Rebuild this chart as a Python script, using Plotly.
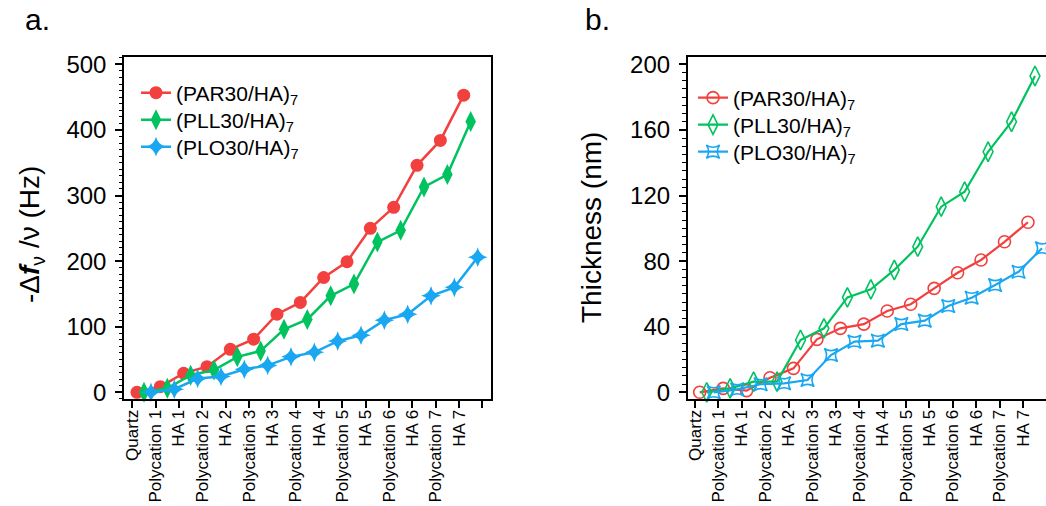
import plotly.graph_objects as go

# ---------------- data ----------------
categories = ["Quartz", "Polycation 1", "HA 1", "Polycation 2", "HA 2", "Polycation 3", "HA 3",
              "Polycation 4", "HA 4", "Polycation 5", "HA 5", "Polycation 6", "HA 6",
              "Polycation 7", "HA 7"]

series_names = ["(PAR30/HA)<sub>7</sub>", "(PLL30/HA)<sub>7</sub>", "(PLO30/HA)<sub>7</sub>"]

# panel a: -Δf/ν (Hz)
freq_par = [0, 8.5, 29, 39, 65.5, 81, 119, 137, 175, 199, 250, 282, 346, 384, 453]
freq_pll = [0, 6, 26, 34, 54, 63, 96, 111, 147, 165, 229, 247, 313, 332, 413]
freq_plo = [0, 4.6, 21, 24, 35, 41, 54, 61, 78, 87, 110, 119, 147, 160, 206]

# panel b: thickness (nm)
thick_par = [0, 2.4, 1.0, 8.9, 14.6, 32.3, 39, 41.6, 49.6, 53.7, 63.4, 72.9, 80.7, 91.8, 103.7]
thick_pll = [0, 2.4, 6.5, 6.5, 31.9, 39, 57.9, 62.8, 74.6, 88.8, 113.2, 122.3, 146.7, 165, 192.9]
thick_plo = [0, 1.8, 4.9, 5.5, 7.5, 22.7, 30.9, 31.5, 41.6, 43.7, 52.6, 57.7, 65.4, 73.5, 87.8]

# ---------------- style ----------------
colors = ["#F2403F", "#00C35F", "#1AA7F2"]
offsets = [0.2, 0.5, 0.8]
W, H = 1046, 506
FONT = "Liberation Sans, Arial, sans-serif"

def px_x(p):
    return p / W

def px_y(p):
    return 1 - p / H

fig = go.Figure()

symbols_a = ["circle", "diamond-tall", "star-diamond"]
sizes_a = [13, 15, 14]
for k, (name, vals, col, off, sym, sz) in enumerate(zip(series_names, [freq_par, freq_pll, freq_plo],
                                                        colors, offsets, symbols_a, sizes_a)):
    fig.add_trace(go.Scatter(
        x=[i + off for i in range(len(vals))], y=vals, name=name,
        mode="lines+markers", xaxis="x", yaxis="y",
        legend="legend" if k == 0 else f"legend{k + 1}",
        line=dict(color=col, width=2.5),
        marker=dict(symbol=sym, size=sz, color=col, line=dict(width=0)),
        cliponaxis=False,
    ))

symbols_b = ["circle-open", "diamond-tall-open", "star-square-open"]
sizes_b = [12, 14, 12]
for k, (name, vals, col, off, sym, sz) in enumerate(zip(series_names, [thick_par, thick_pll, thick_plo],
                                                        colors, offsets, symbols_b, sizes_b)):
    fig.add_trace(go.Scatter(
        x=[i + off for i in range(len(vals))], y=vals, name=name,
        mode="lines+markers", xaxis="x2", yaxis="y2", legend=f"legend{k + 4}",
        line=dict(color=col, width=2.2),
        marker=dict(symbol=sym, size=sz, color=col, line=dict(width=1.6, color=col)),
        cliponaxis=False,
    ))

tickvals = list(range(len(categories) + 1))
ticktext = categories + [""]

xcommon = dict(
    tickmode="array", tickvals=tickvals, ticktext=ticktext, tickangle=-90,
    ticks="outside", ticklen=7, tickwidth=1.5, tickcolor="black",
    showline=True, linecolor="black", linewidth=1.5, mirror=True,
    showgrid=False, zeroline=False, automargin=False,
    tickfont=dict(family=FONT, size=17, color="black"),
    ticklabelstandoff=-5,
)
ycommon = dict(
    ticks="outside", ticklen=7, tickwidth=1.5, tickcolor="black",
    showline=True, linecolor="black", linewidth=1.5,
    showgrid=False, zeroline=False, automargin=False,
    tickfont=dict(family=FONT, size=24, color="black"),
    ticklabelstandoff=4,
)

ydom = [px_y(399.3), px_y(57.3)]

def legend_at(xpx, ypx):
    return dict(x=px_x(xpx), y=px_y(ypx), xanchor="left", yanchor="middle",
                bgcolor="rgba(0,0,0,0)", borderwidth=0,
                font=dict(family=FONT, size=21, color="black"))

fig.update_layout(
    width=W, height=H,
    margin=dict(l=0, r=0, t=0, b=0, autoexpand=False),
    paper_bgcolor="white", plot_bgcolor="white",
    font=dict(family=FONT, color="black"),
    xaxis=dict(domain=[px_x(124), px_x(491)], range=[-0.356, 15.37], anchor="y", **xcommon),
    yaxis=dict(domain=ydom, range=[-10.7, 510.7], anchor="x", dtick=100, mirror=True,
               minor=dict(dtick=10, ticks="outside", ticklen=3.5, tickwidth=1.2, tickcolor="black"),
               **ycommon),
    xaxis2=dict(domain=[px_x(687.7), 1.0], range=[-0.311, 14.97], anchor="y2", **xcommon),
    yaxis2=dict(domain=ydom, range=[-4.27, 204.3], anchor="x2", dtick=40, mirror=False,
                minor=dict(dtick=5, ticks="outside", ticklen=3.5, tickwidth=1.2, tickcolor="black"),
                **ycommon),
    legend=legend_at(136, 93),
    legend2=legend_at(136, 120),
    legend3=legend_at(136, 147),
    legend4=legend_at(693, 98),
    legend5=legend_at(693, 125),
    legend6=legend_at(693, 152),
    showlegend=True,
)

annotations = [
    dict(text="a.", x=px_x(23), y=px_y(20), xref="paper", yref="paper",
         xanchor="left", yanchor="middle", showarrow=False,
         font=dict(family=FONT, size=30, color="black")),
    dict(text="b.", x=px_x(583), y=px_y(20), xref="paper", yref="paper",
         xanchor="left", yanchor="middle", showarrow=False,
         font=dict(family=FONT, size=30, color="black")),
    dict(text="-Δ<b><i>f</i></b><sub>ν</sub> /ν (Hz)", x=px_x(31), y=px_y(235),
         xref="paper", yref="paper", xanchor="center", yanchor="middle",
         textangle=-90, showarrow=False, font=dict(family=FONT, size=28, color="black")),
    dict(text="Thickness (nm)", x=px_x(591), y=px_y(228),
         xref="paper", yref="paper", xanchor="center", yanchor="middle",
         textangle=-90, showarrow=False, font=dict(family=FONT, size=28, color="black")),
]
fig.update_layout(annotations=annotations)

fig.write_html("out.html", config={"displayModeBar": False},
               post_script="document.body.style.margin='0';document.body.style.overflow='hidden';")
